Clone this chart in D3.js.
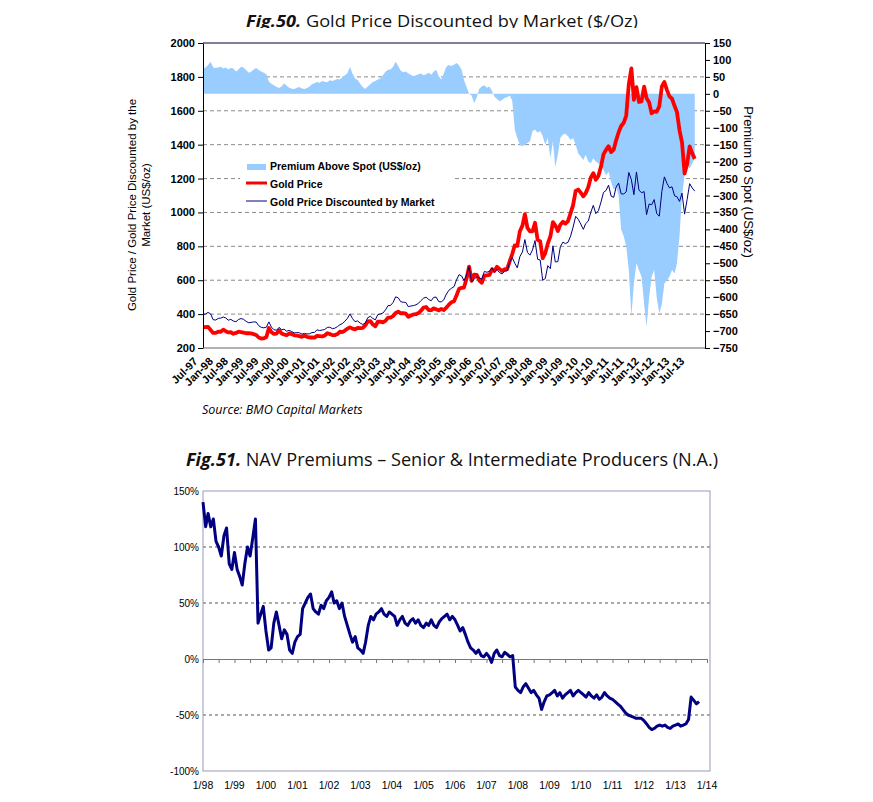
<!DOCTYPE html>
<html>
<head>
<meta charset="utf-8">
<script src="https://cdnjs.cloudflare.com/ajax/libs/d3/7.8.5/d3.min.js"></script>
<style>
  body { margin: 0; background: #fff; }
  svg { display: block; }
  svg text { font-family: "Liberation Sans", Arial, sans-serif; }
</style>
</head>
<body>
<svg id="chart" width="873" height="802"></svg>
<script>

// --- donnees : graphique du haut, un point par mois a partir d'aout 1997
var top_start = new Date(1997, 7, 1);

var gold_price = [
  324, 323, 325, 306, 289,
  289, 297, 296, 308, 299, 292, 293, 284, 289, 296, 294, 291,
  287, 287, 286, 282, 277, 262, 256, 257, 265, 318, 293, 283,
  285, 305, 286, 280, 275, 286, 282, 275, 273, 270, 266, 272,
  266, 262, 263, 261, 272, 270, 268, 273, 287, 283, 276, 276,
  282, 296, 294, 303, 314, 322, 314, 310, 319, 317, 319, 333,
  357, 359, 340, 328, 355, 356, 351, 360, 379, 379, 389, 407,
  414, 405, 406, 403, 384, 392, 398, 400, 406, 420, 439, 442,
  424, 423, 434, 429, 422, 430, 424, 438, 456, 470, 476, 510,
  549, 555, 557, 610, 680, 596, 633, 632, 598, 585, 627, 629,
  631, 665, 655, 679, 667, 655, 665, 665, 712, 754, 806, 803,
  889, 922, 990, 909, 888, 889, 939, 839, 829, 730, 760, 816,
  858, 943, 924, 890, 928, 945, 934, 949, 996, 1043, 1127, 1135,
  1117, 1095, 1114, 1149, 1205, 1232, 1193, 1215, 1271, 1343, 1370, 1391,
  1356, 1372, 1424, 1473, 1510, 1529, 1572, 1756, 1850, 1665, 1739, 1652,
  1656, 1743, 1674, 1650, 1585, 1596, 1594, 1626, 1744, 1770, 1722, 1685,
  1671, 1628, 1593, 1485, 1414, 1230, 1286, 1390, 1349, 1316
];

var gold_discounted = [
  398, 401, 410, 401, 367,
  365, 375, 376, 383, 377, 364, 369, 359, 355, 368, 374, 369,
  357, 349, 351, 354, 353, 332, 322, 319, 323, 354, 323, 308,
  305, 322, 308, 311, 299, 304, 297, 289, 291, 290, 282, 286,
  283, 284, 291, 292, 307, 303, 306, 309, 321, 323, 314, 317,
  326, 338, 344, 358, 375, 401, 374, 355, 360, 347, 339, 347,
  379, 387, 375, 366, 397, 401, 406, 425, 450, 451, 469, 502,
  496, 473, 470, 469, 444, 448, 450, 455, 464, 480, 494, 500,
  486, 479, 499, 500, 474, 472, 484, 518, 541, 552, 562, 601,
  633, 625, 598, 630, 680, 591, 605, 622, 613, 607, 652, 647,
  653, 673, 647, 664, 645, 637, 653, 655, 707, 734, 700, 673,
  739, 767, 840, 764, 748, 779, 834, 724, 719, 600, 610, 686,
  668, 803, 708, 710, 798, 825, 816, 824, 860, 913, 977, 960,
  932, 900, 934, 949, 1000, 1042, 993, 1010, 1061, 1118, 1130, 1161,
  1096, 1089, 1149, 1173, 1110, 1109, 1122, 1236, 1193, 1105, 1239, 1132,
  1116, 1123, 987, 1050, 1045, 1076, 994, 978, 1124, 1210, 1172, 1145,
  1151, 1098, 1093, 1065, 1114, 990, 1076, 1170, 1144, 1126
];

var premium_spot = [
  74, 78, 85, 95, 78,
  76, 78, 80, 75, 78, 72, 76, 75, 66, 72, 80, 78,
  70, 62, 65, 72, 76, 70, 66, 62, 58, 36, 30, 25,
  20, 17, 22, 31, 24, 18, 15, 14, 18, 20, 16, 14,
  17, 22, 28, 31, 35, 33, 38, 36, 34, 40, 38, 41,
  44, 42, 50, 55, 61, 79, 60, 45, 41, 30, 20, 14,
  22, 28, 35, 38, 42, 45, 55, 65, 71, 72, 80, 95,
  82, 68, 64, 66, 60, 56, 52, 55, 58, 60, 55, 58,
  62, 56, 65, 71, 52, 42, 60, 80, 85, 82, 86, 91,
  84, 70, 41, 20, 0, -5, -28, -10, 15, 22, 25, 18,
  22, 8, -8, -15, -22, -18, -12, -10, -5, -20, -106, -130,
  -150, -155, -150, -145, -140, -110, -105, -115, -110, -125, -150, -130,
  -190, -140, -216, -180, -130, -120, -118, -125, -136, -130, -150, -175,
  -185, -195, -180, -200, -205, -190, -200, -205, -210, -225, -240, -230,
  -260, -283, -275, -300, -400, -420, -450, -520, -657, -560, -500, -520,
  -540, -620, -687, -600, -540, -520, -600, -648, -620, -560, -550, -540,
  -520, -530, -500, -420, -300, -240, -210, -220, -205, -190
];

// --- donnees : graphique du bas, un point par mois a partir de janvier 1998 (en %)
var nav_start = new Date(1998, 0, 1);

var nav_premium = [
  140, 118, 130, 118, 125, 105, 100, 92, 110, 117, 85, 80,
  95, 80, 74, 66, 85, 100, 92, 108, 125, 32, 40, 47,
  25, 8, 10, 32, 42, 30, 18, 26, 22, 8, 5, 15,
  20, 22, 45, 50, 55, 58, 45, 42, 40, 48, 45, 52,
  55, 60, 50, 52, 45, 50, 38, 30, 22, 15, 20, 10,
  8, 5, 15, 30, 38, 35, 40, 42, 45, 40, 38, 42,
  40, 38, 30, 35, 38, 32, 30, 34, 36, 32, 35, 30,
  28, 32, 30, 35, 30, 28, 33, 36, 38, 40, 35, 38,
  35, 30, 25, 28, 22, 15, 10, 8, 5, 8, 3, 2,
  5, 2, -3, 5, 8, 3, 2, 6, 4, 2, 3, -25,
  -28, -30, -25, -22, -26, -30, -28, -32, -35, -45, -38, -33,
  -32, -30, -28, -33, -30, -35, -32, -30, -28, -33, -30, -28,
  -30, -32, -34, -30, -33, -35, -32, -36, -34, -30, -33, -35,
  -36, -38, -40, -42, -45, -48, -50, -51, -52, -53, -53, -53,
  -55, -58, -61, -63, -62, -60, -59, -60, -59, -61, -62, -60,
  -59, -58, -60, -59, -58, -54, -34, -37, -40, -38
];

// --- axes / libelles
var left_ticks = [200, 400, 600, 800, 1000, 1200, 1400, 1600, 1800, 2000];
var right_ticks = [150, 100, 50, 0, -50, -100, -150, -200, -250, -300, -350, -400,
                   -450, -500, -550, -600, -650, -700, -750];
var top_tick_labels = ["Jul-97", "Jan-98", "Jul-98", "Jan-99", "Jul-99", "Jan-00", "Jul-00",
  "Jan-01", "Jul-01", "Jan-02", "Jul-02", "Jan-03", "Jul-03", "Jan-04", "Jul-04", "Jan-05",
  "Jul-05", "Jan-06", "Jul-06", "Jan-07", "Jul-07", "Jan-08", "Jul-08", "Jan-09", "Jul-09",
  "Jan-10", "Jul-10", "Jan-11", "Jul-11", "Jan-12", "Jul-12", "Jan-13", "Jul-13"];
var pct_ticks = [150, 100, 50, 0, -50, -100];
var bottom_tick_labels = ["1/98", "1/99", "1/00", "1/01", "1/02", "1/03", "1/04", "1/05",
  "1/06", "1/07", "1/08", "1/09", "1/10", "1/11", "1/12", "1/13", "1/14"];
var legend_labels = ["Premium Above Spot (US$/oz)", "Gold Price", "Gold Price Discounted by Market"];


var svg = d3.select("#chart");

var set_title = function(y, bold_part, rest, size, x0, width, clip) {
  /*
    titre type Word : "Fig.xx." gras italique + texte normal
  */
  var t = svg.append("text")
    .attr("x", x0)
    .attr("y", y)
    .attr("textLength", width)
    .attr("lengthAdjust", "spacingAndGlyphs")
    .style("font-family", "'Open Sans', 'Liberation Sans', sans-serif")
    .style("font-size", size + "px")
    .attr("fill", "#111");
  t.append("tspan").style("font-weight", "bold").style("font-style", "italic").text(bold_part);
  t.append("tspan").text(rest);
  if (clip) t.attr("clip-path", "url(#" + clip + ")");
}

var draw_top = function() {
  /*
    Fig.50 : prix de l'or, prix actualise, prime
  */
  var m = {left: 203, right: 705, top: 43, bottom: 348};

  var x = d3.scaleTime()
    .domain([top_start, new Date(2014, 1, 1)])
    .range([m.left, m.right]);
  var yl = d3.scaleLinear().domain([200, 2000]).range([m.bottom, m.top]);
  var yr = d3.scaleLinear().domain([-750, 150]).range([m.bottom, m.top]);

  var data = gold_price.map(function(v, i) {
    return {date: d3.timeMonth.offset(top_start, i), gold: v,
            disc: gold_discounted[i], prem: premium_spot[i]};
  });

  var g = svg.append("g");

  // grille
  g.selectAll(".grid")
    .data(left_ticks.filter(function(d) { return d > 200 && d < 2000; }))
    .enter().append("line")
    .attr("x1", m.left).attr("x2", m.right)
    .attr("y1", function(d) { return yl(d); })
    .attr("y2", function(d) { return yl(d); })
    .attr("stroke", "#8a8a8a")
    .attr("stroke-dasharray", "4,3");

  // legende (fond blanc qui masque la grille)
  var leg = g.append("g");
  leg.append("rect").attr("x", 240).attr("y", 153).attr("width", 215).attr("height", 57).attr("fill", "#fff");
  leg.append("rect").attr("x", 247).attr("y", 164).attr("width", 19).attr("height", 6).attr("fill", "#99ccff");
  leg.append("line").attr("x1", 246).attr("x2", 267).attr("y1", 183).attr("y2", 183)
    .attr("stroke", "#ff0000").attr("stroke-width", 3);
  leg.append("line").attr("x1", 246).attr("x2", 267).attr("y1", 201).attr("y2", 201)
    .attr("stroke", "#000080").attr("stroke-width", 1);
  leg.selectAll("text")
    .data(legend_labels)
    .enter().append("text")
    .attr("x", 270)
    .attr("y", function(d, i) { return 170 + i * 18; })
    .style("font-size", "10.5px")
    .style("font-weight", "bold")
    .text(function(d) { return d; });

  // prime (aire)
  g.append("path")
    .datum(data)
    .attr("fill", "#99ccff")
    .attr("d", d3.area()
      .x(function(d) { return x(d.date); })
      .y0(yr(0))
      .y1(function(d) { return yr(d.prem); }));

  g.append("path")
    .datum(data)
    .attr("fill", "none")
    .attr("stroke", "#ff0000")
    .attr("stroke-width", 3.8)
    .attr("stroke-linejoin", "round")
    .attr("d", d3.line()
      .x(function(d) { return x(d.date); })
      .y(function(d) { return yl(d.gold); }));

  g.append("path")
    .datum(data)
    .attr("fill", "none")
    .attr("stroke", "#000080")
    .attr("stroke-width", 1)
    .attr("d", d3.line()
      .x(function(d) { return x(d.date); })
      .y(function(d) { return yl(d.disc); }));

  // cadre
  g.append("line").attr("x1", m.left).attr("x2", m.right).attr("y1", m.top).attr("y2", m.top)
    .attr("stroke", "#000033").attr("stroke-width", 1.2);

  g.append("g")
    .attr("transform", "translate(" + m.left + ",0)")
    .call(d3.axisLeft(yl).tickValues(left_ticks).tickFormat(d3.format("d")).tickSize(5).tickSizeOuter(0))
    .call(function(a) {
      a.select(".domain").attr("stroke", "#000");
      a.selectAll("text").style("font-size", "11px").style("font-weight", "bold").attr("fill", "#000");
    });

  g.append("g")
    .attr("transform", "translate(" + m.right + ",0)")
    .call(d3.axisRight(yr).tickValues(right_ticks).tickFormat(d3.format("d")).tickSize(5).tickSizeOuter(0))
    .call(function(a) {
      a.select(".domain").attr("stroke", "#000");
      a.selectAll("text").style("font-size", "11px").style("font-weight", "bold").attr("fill", "#000");
    });

  g.append("line").attr("x1", m.left).attr("x2", m.right).attr("y1", m.bottom).attr("y2", m.bottom)
    .attr("stroke", "#666").attr("stroke-width", 1.2);

  var parse = d3.timeParse("%b-%y");
  g.selectAll(".xlab")
    .data(top_tick_labels)
    .enter().append("text")
    .attr("text-anchor", "end")
    .attr("transform", function(d) {
      return "translate(" + (x(parse(d)) - 2) + "," + (m.bottom + 14) + ") rotate(-45)";
    })
    .style("font-size", "11px")
    .style("font-weight", "bold")
    .text(function(d) { return d; });

  // titres des axes
  var lt = g.append("text")
    .attr("transform", "translate(136," + 205 + ") rotate(-90)")
    .attr("text-anchor", "middle")
    .style("font-size", "11.5px");
  lt.append("tspan").attr("x", 0).attr("dy", 0).text("Gold Price / Gold Price Discounted by the");
  lt.append("tspan").attr("x", 0).attr("dy", 14).text("Market (US$/oz)");

  g.append("text")
    .attr("transform", "translate(744,182) rotate(90)")
    .attr("text-anchor", "middle")
    .style("font-size", "13px")
    .text("Premium to Spot (US$/oz)");

  g.append("text")
    .attr("x", 202).attr("y", 414)
    .style("font-family", "'Open Sans', 'Liberation Sans', sans-serif")
    .style("font-style", "italic")
    .style("font-size", "12.5px")
    .text("Source: BMO Capital Markets");
}

var draw_bottom = function() {
  /*
    Fig.51 : prime / NAV des producteurs
  */
  var m = {left: 203, right: 710, top: 491, bottom: 771};

  var x = d3.scaleTime()
    .domain([nav_start, new Date(2014, 0, 1)])
    .range([203, 707]);
  var y = d3.scaleLinear().domain([-100, 150]).range([m.bottom, m.top]);

  var data = nav_premium.map(function(v, i) {
    return {date: d3.timeMonth.offset(nav_start, i), value: v};
  });

  var g = svg.append("g");

  g.selectAll(".grid")
    .data(pct_ticks.filter(function(d) { return d != 0 && d != 150 && d != -100; }))
    .enter().append("line")
    .attr("x1", m.left).attr("x2", m.right)
    .attr("y1", function(d) { return y(d); })
    .attr("y2", function(d) { return y(d); })
    .attr("stroke", "#555")
    .attr("stroke-dasharray", "3,3");

  g.append("rect")
    .attr("x", m.left).attr("y", m.top)
    .attr("width", m.right - m.left).attr("height", m.bottom - m.top)
    .attr("fill", "none")
    .attr("stroke", "#9999bb");

  // axe des x a 0 %, graduations tous les 6 mois
  g.append("g")
    .attr("transform", "translate(0," + y(0) + ")")
    .call(d3.axisBottom(x).ticks(d3.timeMonth.every(6)).tickSize(4).tickFormat(""))
    .call(function(a) {
      a.select(".domain").attr("stroke", "#777");
      a.selectAll("line").attr("stroke", "#777");
    });

  g.selectAll(".ylab")
    .data(pct_ticks)
    .enter().append("text")
    .attr("x", 199)
    .attr("y", function(d) { return y(d) + 4; })
    .attr("text-anchor", "end")
    .style("font-size", "10px")
    .text(function(d) { return d + "%"; });

  var parse = d3.timeParse("%m/%y");
  g.selectAll(".xlab")
    .data(bottom_tick_labels)
    .enter().append("text")
    .attr("x", function(d) { return x(parse(d)); })
    .attr("y", 789)
    .attr("text-anchor", "middle")
    .style("font-size", "10.5px")
    .text(function(d) { return d; });

  g.append("path")
    .datum(data)
    .attr("fill", "none")
    .attr("stroke", "#000080")
    .attr("stroke-width", 3)
    .attr("stroke-linejoin", "round")
    .attr("d", d3.line()
      .x(function(d) { return x(d.date); })
      .y(function(d) { return y(d.value); }));
}

svg.append("defs").append("clipPath").attr("id", "clip_t1")
  .append("rect").attr("x", 0).attr("y", 0).attr("width", 873).attr("height", 28);

set_title(27, "Fig.50.", " Gold Price Discounted by Market ($/Oz)", 16.5, 246, 392, "clip_t1");
set_title(466, "Fig.51.", " NAV Premiums \u2013 Senior & Intermediate Producers (N.A.)", 18, 186, 532, null);

draw_top();
draw_bottom();

</script>
</body>
</html>
